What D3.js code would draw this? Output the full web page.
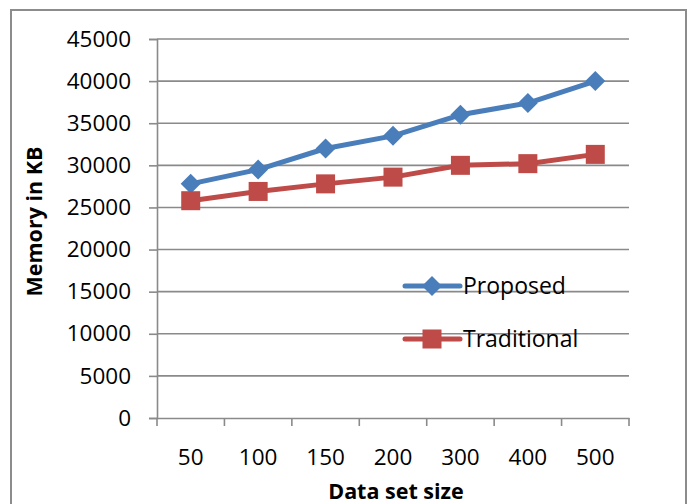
<!DOCTYPE html>
<html>
<head>
<meta charset="utf-8">
<script src="https://cdn.jsdelivr.net/npm/d3@7/dist/d3.min.js"></script>
<style>
  html, body { margin: 0; padding: 0; background: #fff; }
  svg { display: block; }
  text { font-family: "Open Sans", "Noto Sans", sans-serif; fill: #000; }
</style>
</head>
<body>
<svg id="chart" width="689" height="504"></svg>
<script>
// Data set sizes on the x axis
const categories = ["50", "100", "150", "200", "300", "400", "500"];
// Memory usage in KB for each approach
const proposed    = [27800, 29500, 32000, 33500, 36000, 37400, 40000];
const traditional = [25800, 26900, 27800, 28600, 30000, 30200, 31300];
const yTicks = [0, 5000, 10000, 15000, 20000, 25000, 30000, 35000, 40000, 45000];

const seriesList = [
  { name: "Proposed", values: proposed, color: "#4A7EBB", shape: "diamond" },
  { name: "Traditional", values: traditional, color: "#BE4B48", shape: "square" }
];

const svg = d3.select("#chart");
const plot = { left: 157, right: 629, top: 39, bottom: 418 };

// Outer chart frame
svg.append("rect")
  .attr("x", 11).attr("y", 10)
  .attr("width", 675).attr("height", 510)
  .attr("fill", "none").attr("stroke", "#8c8c8c").attr("stroke-width", 2);

const x = d3.scaleBand().domain(categories).range([plot.left, plot.right]);
const y = d3.scaleLinear().domain([0, 45000]).range([plot.bottom, plot.top]);

// Horizontal gridlines
svg.append("g")
  .selectAll("line")
  .data(yTicks.filter(t => t > 0))
  .join("line")
  .attr("x1", plot.left).attr("x2", plot.right)
  .attr("y1", d => y(d)).attr("y2", d => y(d))
  .attr("stroke", "#8a8a8a").attr("stroke-width", 1.6);

// Y axis
const yAxis = svg.append("g")
  .attr("transform", `translate(${plot.left},0)`)
  .call(d3.axisLeft(y).tickValues(yTicks).tickSize(8).tickPadding(18).tickFormat(d3.format("d")));
yAxis.select(".domain").attr("stroke", "#8a8a8a").attr("stroke-width", 1.6);
yAxis.selectAll(".tick line").attr("stroke", "#8a8a8a").attr("stroke-width", 1.6);
yAxis.selectAll(".tick text").style("font-size", "22.5px").attr("fill", "#000");

// X axis with ticks at category boundaries
const xAxis = svg.append("g")
  .attr("transform", `translate(0,${plot.bottom})`)
  .call(d3.axisBottom(x).tickSize(0).tickPadding(31));
xAxis.select(".domain").attr("stroke", "#8a8a8a").attr("stroke-width", 1.6);
xAxis.selectAll(".tick text").style("font-size", "22.5px").attr("fill", "#000");
const boundaries = categories.map(c => x(c)).concat([x(categories[categories.length - 1]) + x.bandwidth()]);
xAxis.selectAll(".bound")
  .data(boundaries)
  .join("line")
  .attr("class", "bound")
  .attr("x1", d => d).attr("x2", d => d)
  .attr("y1", 0).attr("y2", 8)
  .attr("stroke", "#8a8a8a").attr("stroke-width", 1.6);

// Axis titles
svg.append("text")
  .attr("x", (plot.left + plot.right) / 2 + 3)
  .attr("y", 499)
  .attr("text-anchor", "middle")
  .style("font-size", "21.5px").style("font-weight", "bold")
  .text("Data set size");

svg.append("text")
  .attr("transform", `translate(42,${(plot.top + plot.bottom) / 2 - 7}) rotate(-90)`)
  .attr("text-anchor", "middle")
  .style("font-size", "21.5px").style("font-weight", "bold")
  .text("Memory in KB");

// Marker drawing helper
function marker(g, shape, color, cx, cy) {
  if (shape === "diamond") {
    const r = 10;
    g.append("path")
      .attr("d", `M${cx},${cy - r}L${cx + r},${cy}L${cx},${cy + r}L${cx - r},${cy}Z`)
      .attr("fill", color);
  } else {
    const s = 19;
    g.append("rect")
      .attr("x", cx - s / 2).attr("y", cy - s / 2)
      .attr("width", s).attr("height", s)
      .attr("fill", color);
  }
}

const line = d3.line()
  .x((d, i) => x(categories[i]) + x.bandwidth() / 2)
  .y(d => y(d));

seriesList.forEach(s => {
  const g = svg.append("g");
  g.append("path")
    .datum(s.values)
    .attr("d", line)
    .attr("fill", "none")
    .attr("stroke", s.color)
    .attr("stroke-width", 5)
    .attr("stroke-linejoin", "round");
  s.values.forEach((v, i) => marker(g, s.shape, s.color, x(categories[i]) + x.bandwidth() / 2, y(v)));
});

// Legend
const legendY = [286, 339];
seriesList.forEach((s, i) => {
  const g = svg.append("g");
  g.append("line")
    .attr("x1", 405).attr("x2", 460)
    .attr("y1", legendY[i]).attr("y2", legendY[i])
    .attr("stroke", s.color).attr("stroke-width", 5).attr("stroke-linecap", "round");
  marker(g, s.shape, s.color, 432, legendY[i]);
  g.append("text")
    .attr("x", 463).attr("y", legendY[i] + 8)
    .style("font-size", "23px")
    .text(s.name);
});
</script>
</body>
</html>
